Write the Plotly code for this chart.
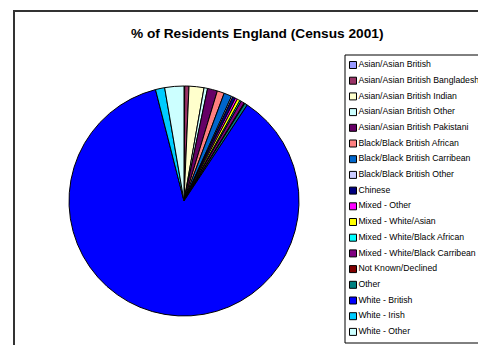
import plotly.graph_objects as go

W, H = 478, 345

categories = [
    "Asian/Asian British",
    "Asian/Asian British Bangladesh",
    "Asian/Asian British Indian",
    "Asian/Asian British Other",
    "Asian/Asian British Pakistani",
    "Black/Black British African",
    "Black/Black British Carribean",
    "Black/Black British Other",
    "Chinese",
    "Mixed - Other",
    "Mixed - White/Asian",
    "Mixed - White/Black African",
    "Mixed - White/Black Carribean",
    "Not Known/Declined",
    "Other",
    "White - British",
    "White - Irish",
    "White - Other",
]
values = [0.1, 0.6, 2.1, 0.5, 1.4, 1.0, 1.1, 0.2, 0.4, 0.3, 0.4, 0.2, 0.5, 0.1, 0.4, 87.0, 1.3, 2.7]
colors = ["#9999FF", "#993366", "#FFFFCC", "#CCFFFF", "#660066", "#FF8080",
          "#0066CC", "#CCCCFF", "#000080", "#FF00FF", "#FFFF00", "#00FFFF",
          "#800080", "#800000", "#008080", "#0000FF", "#00CCFF", "#CCFFFF"]

def px(x):
    return x / W

def py(y):
    return 1 - y / H

fig = go.Figure()
fig.add_trace(go.Pie(
    labels=categories,
    values=values,
    sort=False,
    direction="clockwise",
    rotation=0,
    textinfo="none",
    hoverinfo="label+percent",
    showlegend=False,
    marker=dict(colors=colors, line=dict(color="black", width=1)),
    domain=dict(x=[px(69), px(299)], y=[py(316), py(86)]),
))

# legend built as a scatter on a dedicated axis
idx = list(range(len(categories)))
fig.add_trace(go.Scatter(
    x=[8] * len(categories),
    y=idx,
    mode="markers+text",
    text=categories,
    textposition="middle right",
    textfont=dict(size=8.7, color="black"),
    marker=dict(symbol="square", size=7, color=colors,
                line=dict(color="black", width=1)),
    cliponaxis=False,
    showlegend=False,
    hoverinfo="text",
))

fig.update_layout(
    width=W, height=H,
    margin=dict(l=0, r=0, t=0, b=0),
    paper_bgcolor="white",
    plot_bgcolor="rgba(0,0,0,0)",
    font=dict(family="Arial, Liberation Sans, sans-serif", color="black"),
    showlegend=False,
    xaxis=dict(domain=[px(345), 1.0], range=[0, W - 345], visible=False, fixedrange=True),
    yaxis=dict(domain=[py(339.75), py(57.15)], range=[len(categories) - 0.5, -0.5],
               visible=False, fixedrange=True),
    annotations=[dict(text="<b>% of Residents England (Census 2001)</b>",
                      xref="paper", yref="paper", x=px(257), y=py(33),
                      xanchor="center", yanchor="middle", showarrow=False,
                      font=dict(size=13.7, color="black"))],
    shapes=[
        dict(type="rect", xref="paper", yref="paper",
             x0=px(14), y0=py(380), x1=px(520), y1=py(11),
             line=dict(color="#333333", width=2)),
        dict(type="rect", xref="paper", yref="paper",
             x0=px(345), y0=py(343), x1=px(520), y1=py(55),
             line=dict(color="black", width=1)),
    ],
)

fig.write_html(
    "out.html",
    config={"displayModeBar": False},
    post_script="document.body.style.margin='0';document.body.style.overflow='hidden';",
)
